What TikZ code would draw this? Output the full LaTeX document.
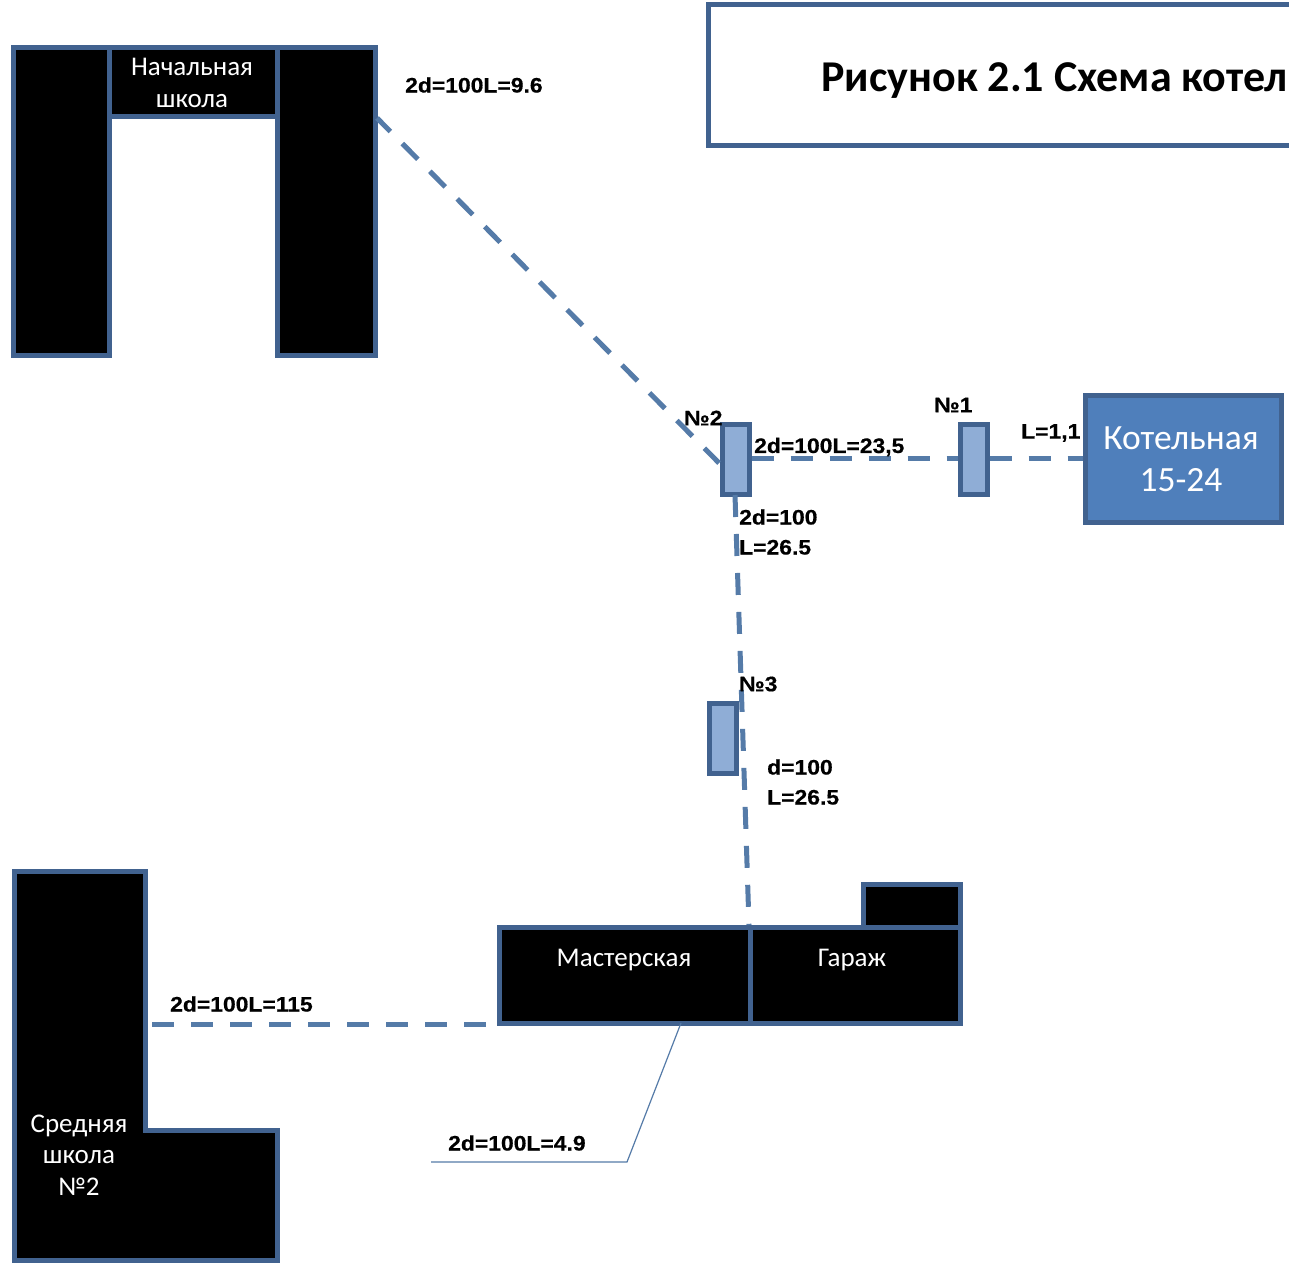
\documentclass[tikz,border=0pt]{standalone}
\usepackage{fontspec}
\setmainfont{Carlito}
\newfontfamily\lblfont[FakeStretch=1.09,FakeBold=0.5]{Liberation Sans}
\definecolor{edge}{HTML}{41628F}
\definecolor{pipe}{HTML}{557BA8}
\definecolor{pumpfill}{HTML}{8FADD6}
\definecolor{boilerfill}{HTML}{4F7FBB}
\tikzset{
  bld/.style={draw=edge,line width=5pt,fill=black,rectangle,inner sep=0pt},
  bldtext/.style={text=white,font=\fontsize{27}{31.5}\selectfont,align=center,inner sep=0pt},
  pump/.style={draw=edge,line width=5pt,fill=pumpfill,rectangle,inner sep=0pt,minimum width=27pt,minimum height=70pt},
  lbl/.style={inner sep=0pt,font=\lblfont\bfseries\fontsize{21}{30}\selectfont,text=black,align=left,anchor=west},
  pipeline/.style={draw=pipe,line width=5pt,dash pattern=on 22pt off 17pt},
  thinline/.style={draw=pipe,line width=1.2pt}
}
\begin{document}
\begin{tikzpicture}[x=1pt,y=-1pt]
\useasboundingbox (0,0) rectangle (1289,1263);
\fill[white] (0,0) rectangle (1289,1263);
% title box
\begin{scope}
\clip (0,0) rectangle (1289,1263);
\draw[edge,line width=5pt] (1295,5) -- (708,5) -- (708,145) -- (1295,145);
\node[inner sep=0pt,anchor=base west,font=\bfseries\fontsize{44}{50}\selectfont] (title) at (821,91) {Рисунок 2.1 Схема котель};
\end{scope}
% primary school
\node[bld,minimum width=96pt,minimum height=307pt] (pl) at (61,201.5) {};
\node[bld,minimum width=98pt,minimum height=307pt] (pr) at (326,201.5) {};
\node[bld,minimum width=168pt,minimum height=68pt] (pm) at (193,82) {};
\node[bldtext] (pt) at (192,83) {Начальная\\школа};
% secondary school
\draw[edge,line width=5pt,fill=black,line join=miter] (14,871) -- (145,871) -- (145,1130) -- (277,1130) -- (277,1260) -- (14,1260) -- cycle;
\node[bldtext] (st) at (79,1155) {Средняя\\школа\\№2};
\coordinate (sE) at (152,1024);
% workshop and garage
\node[bld,minimum width=97pt,minimum height=43pt] (gt) at (911.5,905.5) {};
\node[bld,minimum width=251pt,minimum height=96pt] (ws) at (624.5,975) {};
\node[bld,minimum width=210pt,minimum height=96pt] (ga) at (855,975) {};
\node[bldtext] (wst) at (624,960) {Мастерская};
\node[bldtext] (gat) at (852,960) {Гараж};
% boiler
\node[draw=edge,line width=5pt,fill=boilerfill,inner sep=0pt,minimum width=196pt,minimum height=127pt] (boil) at (1183,458.5) {};
\node[text=white,align=center,inner sep=0pt,font=\fontsize{35.5}{42}\selectfont] (boilt) at (1181,459) {Котельная\\15-24};
% pumps
\node[pump] (p1) at (973.5,459) {};
\node[pump] (p2) at (735.5,459) {};
\node[pump] (p3) at (723,738) {};
% pipes
\coordinate (pE) at (377,118);
\coordinate (p2w) at (719,463);
\coordinate (p2s) at (735,495);
\coordinate (wsT) at (749,925);
\draw[pipeline,dash phase=3pt] (pE) -- (p2w);
\draw[pipeline] (p2.east |- 0,458) -- (p1.west |- 0,458);
\draw[pipeline] (p1.east |- 0,458) -- (boil.west |- 0,458);
\draw[pipeline] (p2s) -- (wsT);
\draw[pipeline] (sE) -- (ws.west |- sE);
\coordinate (tA) at (681,1023);
\coordinate (tB) at (627,1162);
\coordinate (tC) at (431,1162);
\draw[thinline] (tA) -- (tB) -- (tC);
% labels
\node[lbl] (l1) at (405,85) {2d=100L=9.6};
\node[lbl] (l2) at (754,447) {2d=100L=23,5};
\node[lbl] (l3) at (1021,433) {L=1,1};
\node[lbl] (l4) at (739,532) {2d=100\\L=26.5};
\node[lbl] (l5) at (767,782) {d=100\\L=26.5};
\node[lbl] (l6) at (170,1004) {2d=100L=115};
\node[lbl] (l7) at (448,1143) {2d=100L=4.9};
\node[lbl] (n1) at (934,405) {№1};
\node[lbl] (n2) at (684,418) {№2};
\node[lbl] (n3) at (739,684) {№3};
\end{tikzpicture}
\end{document}
